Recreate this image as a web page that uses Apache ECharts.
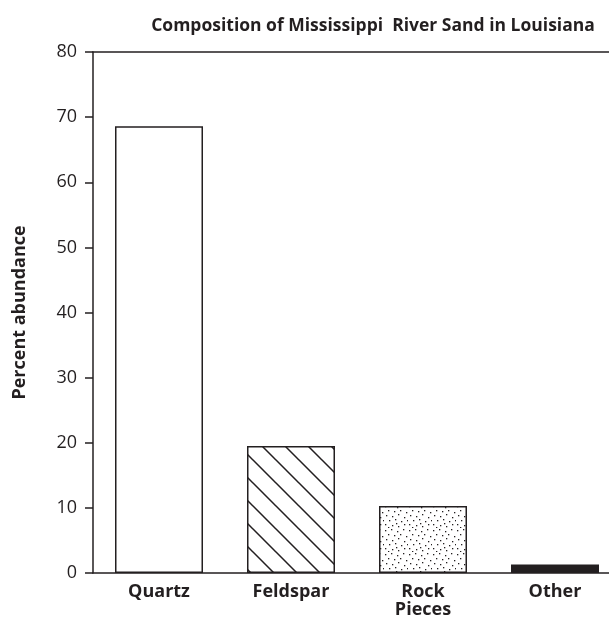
<!DOCTYPE html>
<html>
<head>
<meta charset="utf-8">
<script src="https://cdn.jsdelivr.net/npm/echarts@6/dist/echarts.min.js"></script>
<style>
  html, body { margin: 0; padding: 0; background: #fff; }
  #chartDom { width: 609px; height: 622px; }
</style>
</head>
<body>
<div id="chartDom"></div>
<script>
var titleText = 'Composition of Mississippi  River Sand in Louisiana';
var categories = ['Quartz', 'Feldspar', 'Rock\nPieces', 'Other'];
var abundance = [68.6, 19.5, 10.3, 1.3];
var yTicks = [0, 10, 20, 30, 40, 50, 60, 70, 80];

var ink = '#231f20';
var fontFamily = '"Open Sans", "DejaVu Sans", sans-serif';

// diagonal hatch for feldspar
function hatchPattern() {
    var c = document.createElement('canvas');
    var s = 23;
    c.width = s; c.height = s;
    var ctx = c.getContext('2d');
    ctx.fillStyle = '#fff';
    ctx.fillRect(0, 0, s, s);
    ctx.strokeStyle = ink;
    ctx.lineWidth = 1.5;
    ctx.beginPath();
    ctx.moveTo(-2, -2); ctx.lineTo(s + 2, s + 2);
    ctx.moveTo(-2, s - 2); ctx.lineTo(2, s + 2);
    ctx.moveTo(s - 2, -2); ctx.lineTo(s + 2, 2);
    ctx.stroke();
    return c;
}

// stipple for rock pieces, fixed dot positions
function stipplePattern() {
    var c = document.createElement('canvas');
    var s = 24;
    c.width = s; c.height = s;
    var ctx = c.getContext('2d');
    ctx.fillStyle = '#fff';
    ctx.fillRect(0, 0, s, s);
    ctx.fillStyle = ink;
    var dots = [[1,2],[7,1],[13,3],[19,1],[4,6],[10,7],[16,6],[22,8],
                [2,11],[8,12],[14,10],[20,13],[5,16],[11,15],[17,17],[23,16],
                [1,20],[8,21],[14,22],[20,20],[4,23],[12,19]];
    dots.forEach(function (d) { ctx.fillRect(d[0], d[1], 1.3, 1.3); });
    return c;
}

var chartDom = echarts.init(document.getElementById('chartDom'), null, { renderer: 'canvas' });

var fills = [
    '#fff',
    { image: hatchPattern(), repeat: 'repeat' },
    { image: stipplePattern(), repeat: 'repeat' },
    ink
];

chartDom.setOption({
    animation: false,
    backgroundColor: '#fff',
    title: {
        text: titleText,
        left: 368,
        textAlign: 'center',
        top: 12,
        textStyle: { fontFamily: fontFamily, fontSize: 17.5, fontWeight: 'bold', color: ink }
    },
    grid: {
        left: 93, width: 528, top: 52, height: 521,
        containLabel: false, outerBoundsMode: 'none'
    },
    xAxis: [{
        type: 'category',
        data: categories,
        axisLine: { lineStyle: { color: ink, width: 1.5 } },
        axisTick: { show: false },
        axisLabel: {
            margin: 10,
            fontFamily: fontFamily, fontSize: 18, fontWeight: 'bold', color: ink,
            lineHeight: 18
        }
    }, {
        type: 'category',
        position: 'top',
        data: categories,
        axisLine: { lineStyle: { color: ink, width: 1.5 } },
        axisTick: { show: false },
        axisLabel: { show: false }
    }],
    yAxis: {
        type: 'value',
        min: yTicks[0],
        max: yTicks[yTicks.length - 1],
        interval: 10,
        name: 'Percent abundance',
        nameLocation: 'middle',
        nameRotate: 90,
        nameGap: 64,
        nameTextStyle: { fontFamily: fontFamily, fontSize: 18, fontWeight: 'bold', color: ink },
        axisLine: { show: true, lineStyle: { color: ink, width: 1.5 } },
        axisTick: { show: true, length: 8, lineStyle: { color: ink, width: 1.5 } },
        axisLabel: { margin: 16, fontFamily: fontFamily, fontSize: 18, color: ink },
        splitLine: { show: false }
    },
    series: [{
        type: 'bar',
        barWidth: 88,
        data: abundance.map(function (v, i) {
            return {
                value: v,
                itemStyle: { color: fills[i], borderColor: ink, borderWidth: 1.5 }
            };
        })
    }]
});
</script>
</body>
</html>
